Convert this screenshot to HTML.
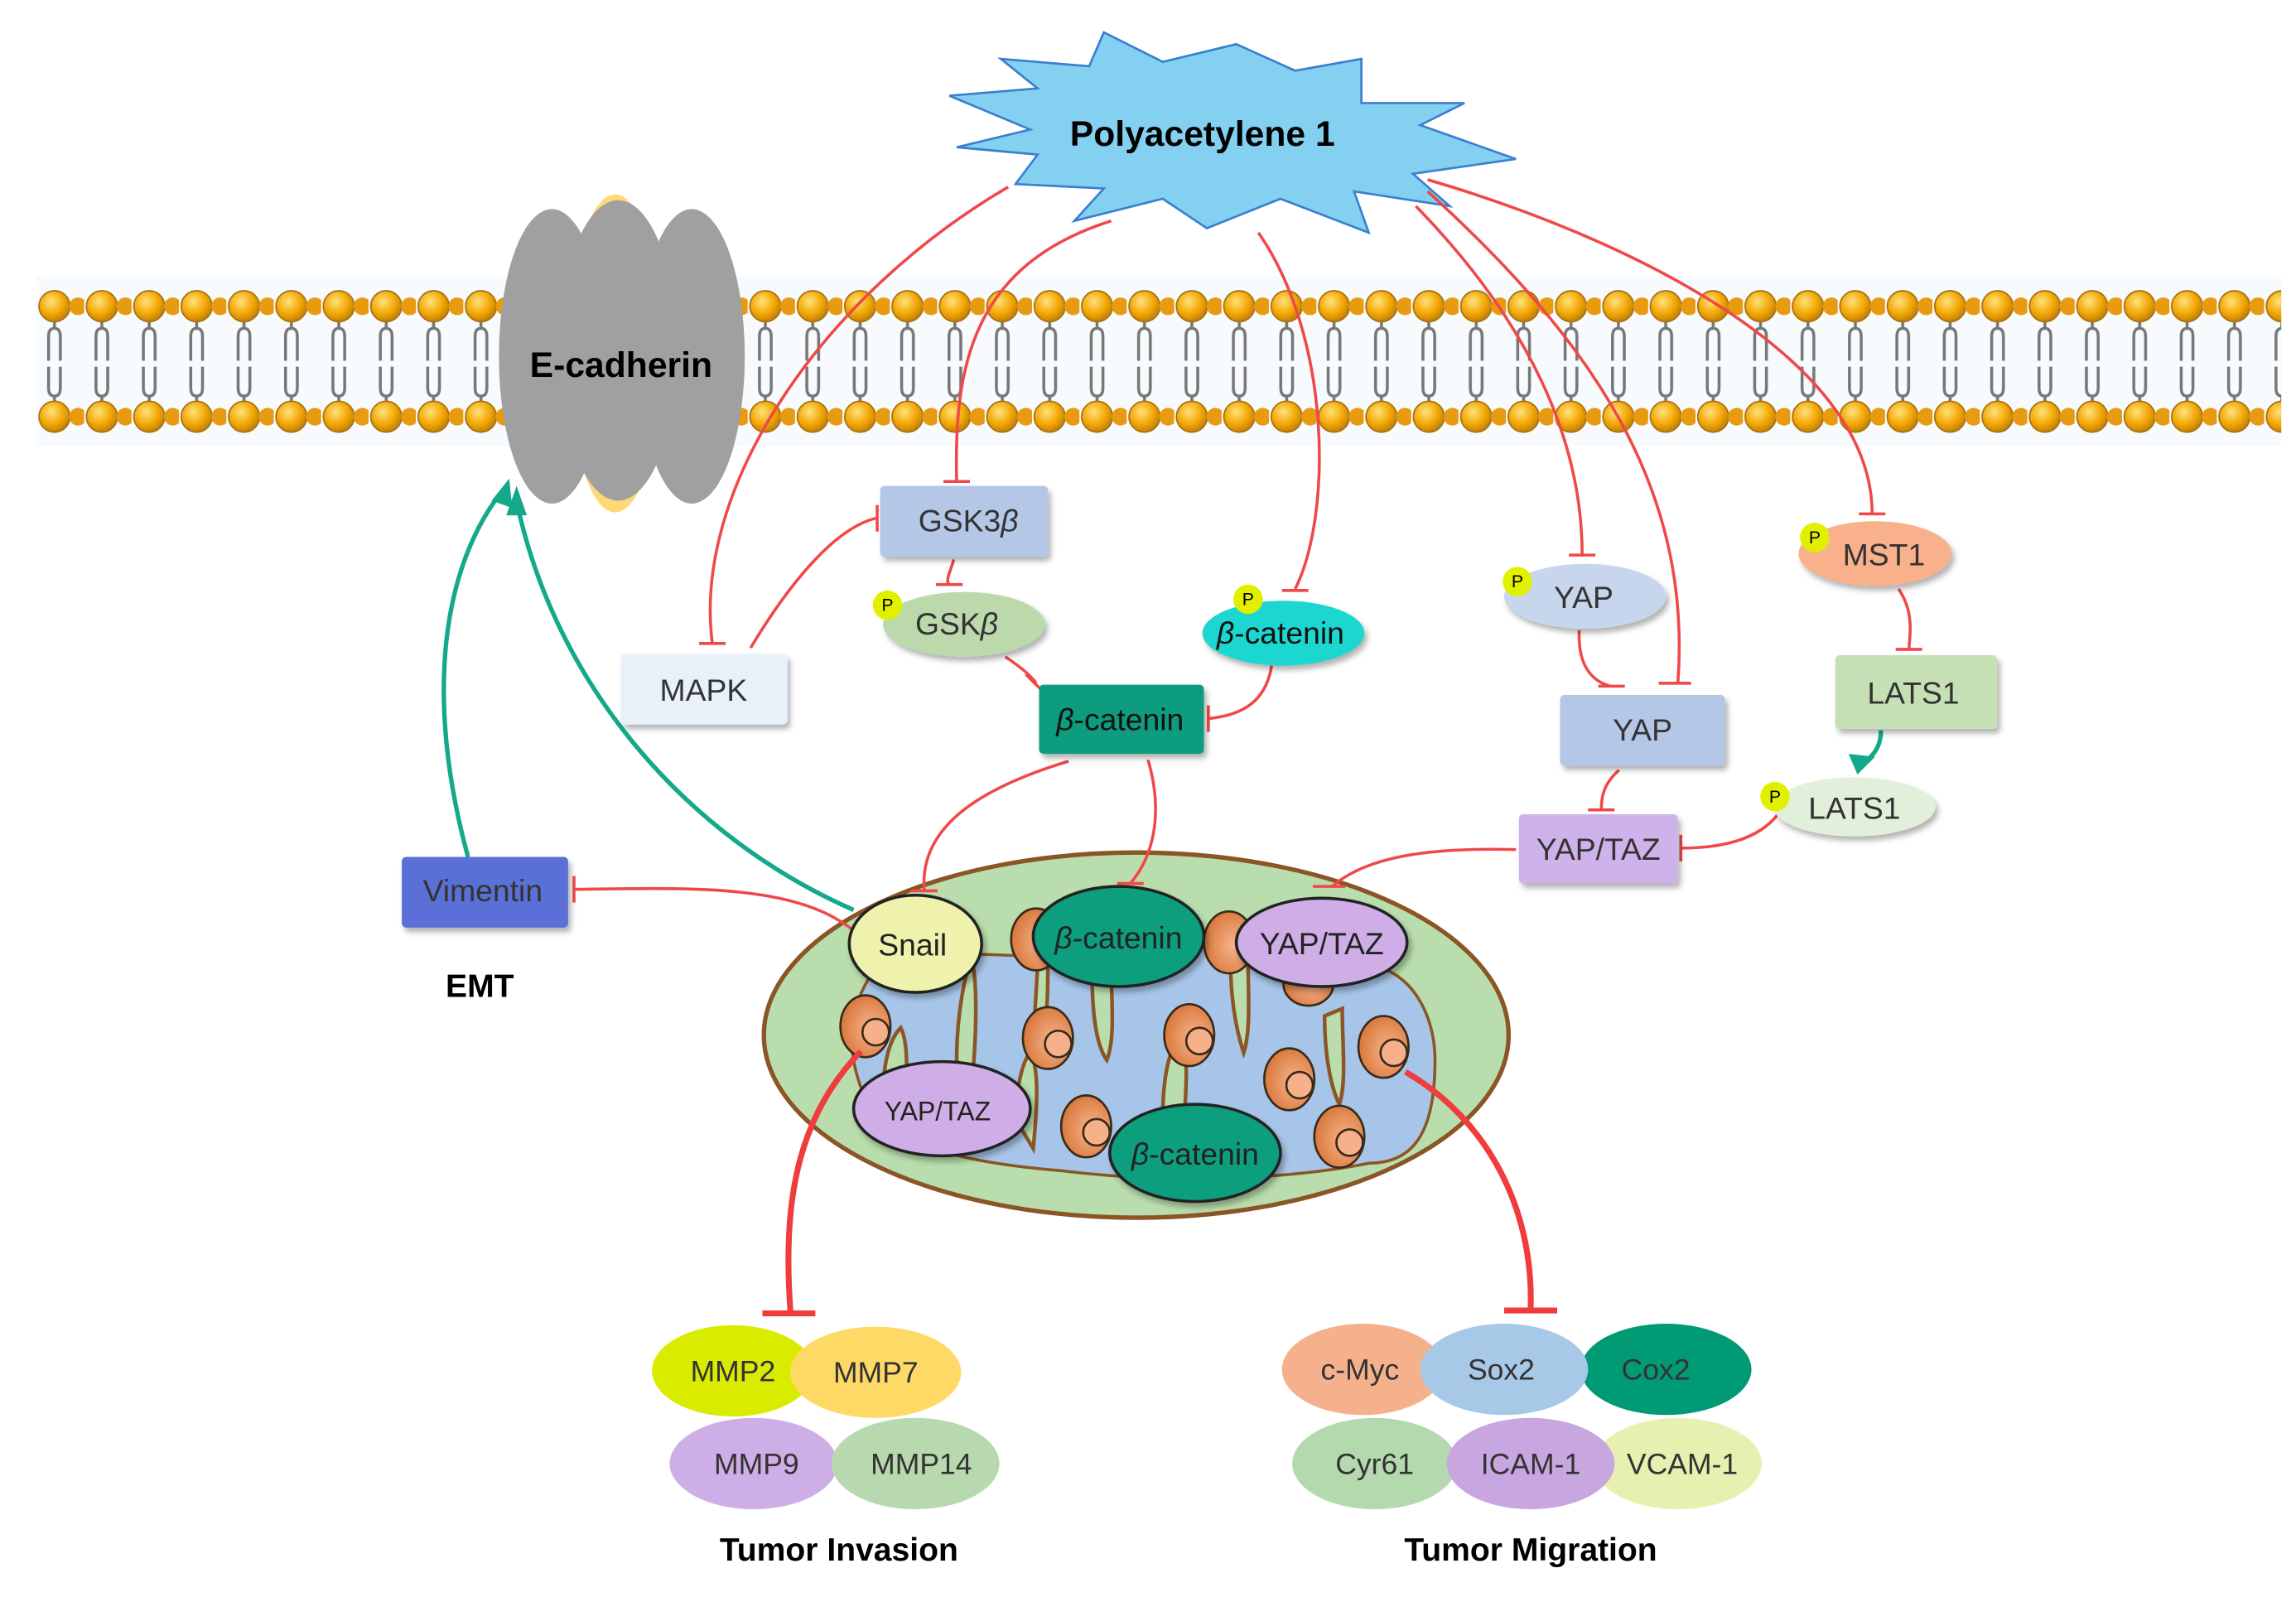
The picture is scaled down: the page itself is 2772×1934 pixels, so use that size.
<!DOCTYPE html>
<html><head><meta charset="utf-8"><style>
html,body{margin:0;padding:0;background:#fff;}
svg{display:block;}
text{font-family:"Liberation Sans",sans-serif;}
</style></head><body>
<svg width="2772" height="1934" viewBox="0 0 1560 1088" preserveAspectRatio="none" xmlns="http://www.w3.org/2000/svg">
<defs>
<radialGradient id="bead" cx="0.4" cy="0.35" r="0.7">
<stop offset="0" stop-color="#ffe27a"/><stop offset="0.6" stop-color="#f2a400"/><stop offset="1" stop-color="#b57a10"/>
</radialGradient>
<radialGradient id="ball" cx="0.6" cy="0.55" r="0.6">
<stop offset="0" stop-color="#f9b48a"/><stop offset="1" stop-color="#d7783c"/>
</radialGradient>
<pattern id="mem" x="25" y="0" width="32.2" height="1088" patternUnits="userSpaceOnUse">
<g stroke="#777" stroke-width="2" fill="none">
<path d="M12,215 v8 M12,223 c-4,0 -4,4 -4,6 v16 M12,223 c4,0 4,4 4,6 v16"/>
<path d="M12,277 v-8 M12,269 c-4,0 -4,-4 -4,-6 v-14 M12,269 c4,0 4,-4 4,-6 v-14"/>
</g>
<circle cx="12" cy="208" r="10.5" fill="url(#bead)" stroke="#a87010" stroke-width="1"/>
<circle cx="12" cy="283" r="10.5" fill="url(#bead)" stroke="#a87010" stroke-width="1"/>
<circle cx="28" cy="208" r="6" fill="#e89a10"/>
<circle cx="28" cy="283" r="6" fill="#e89a10"/>
</pattern>
<filter id="sh" x="-20%" y="-20%" width="140%" height="150%"><feDropShadow dx="2" dy="3" stdDeviation="2" flood-color="#000" flood-opacity="0.3"/></filter>
</defs>

<!-- membrane -->
<rect x="25" y="188" width="1525" height="115" fill="#f7fbfd"/>
<rect x="25" y="190" width="1525" height="110" fill="url(#mem)"/>

<!-- E-cadherin -->
<ellipse cx="418" cy="240" rx="32" ry="108" fill="#ffd878"/>
<ellipse cx="375" cy="242" rx="36" ry="100" fill="#a0a0a0"/>
<ellipse cx="470" cy="242" rx="36" ry="100" fill="#a0a0a0"/>
<ellipse cx="420" cy="238" rx="40" ry="102" fill="#a0a0a0"/>
<text x="422" y="256" font-size="24" font-weight="bold" text-anchor="middle" fill="#000">E-cadherin</text>

<!-- Starburst -->
<polygon points="645,65 705,60 680,40 740,45 750,22 790,42 840,30 880,48 925,40 925,70 995,70 965,85 1030,108 960,118 985,140 920,130 930,158 870,135 820,155 790,135 730,150 750,128 690,125 705,105 650,100 700,88" fill="#84d0f0" stroke="#3a7fd0" stroke-width="1.5"/>
<text x="817" y="99" font-size="24" font-weight="bold" text-anchor="middle" fill="#000">Polyacetylene 1</text>

<!-- mitochondrion body -->
<ellipse cx="772" cy="703" rx="253" ry="124" fill="#b9ddac" stroke="#8b5525" stroke-width="3"/>
<path d="M590,665 C620,640 680,650 720,650 C780,640 850,640 930,655 C960,660 975,690 975,720 C975,770 960,790 930,790 C880,800 800,805 720,795 C660,790 610,780 590,750 C575,720 575,690 590,665 Z" fill="#a6c5e8" stroke="#8b5525" stroke-width="2"/>
<g fill="#b9ddac" stroke="#8b5525" stroke-width="2.5">
<path d="M650,720 C650,690 655,665 660,650 C664,665 664,700 660,740 Z"/>
<path d="M705,650 C705,675 700,700 706,715 C712,700 712,670 712,650 Z"/>
<path d="M742,660 C742,690 745,710 752,720 C758,705 755,680 755,655 Z"/>
<path d="M790,760 C790,730 795,710 802,705 C808,715 806,740 804,770 Z"/>
<path d="M836,650 C836,680 840,700 845,715 C850,700 848,675 848,650 Z"/>
<path d="M690,760 C690,740 695,720 700,715 C706,725 705,750 702,780 Z"/>
<path d="M900,690 C900,720 905,740 910,750 C915,735 912,710 912,685 Z"/>
<path d="M600,745 C600,720 605,705 612,698 C618,710 616,735 614,760 Z"/>
</g>
<g stroke="#3a2a1a" stroke-width="1.5">
<ellipse cx="588" cy="697" rx="17" ry="21" fill="url(#ball)"/><circle cx="595" cy="701" r="9" fill="#f7b18a"/>
<ellipse cx="712" cy="705" rx="17" ry="21" fill="url(#ball)"/><circle cx="719" cy="709" r="9" fill="#f7b18a"/>
<ellipse cx="808" cy="703" rx="17" ry="21" fill="url(#ball)"/><circle cx="815" cy="707" r="9" fill="#f7b18a"/>
<ellipse cx="876" cy="733" rx="17" ry="21" fill="url(#ball)"/><circle cx="883" cy="737" r="9" fill="#f7b18a"/>
<ellipse cx="940" cy="711" rx="17" ry="21" fill="url(#ball)"/><circle cx="947" cy="715" r="9" fill="#f7b18a"/>
<ellipse cx="738" cy="765" rx="17" ry="21" fill="url(#ball)"/><circle cx="745" cy="769" r="9" fill="#f7b18a"/>
<ellipse cx="910" cy="772" rx="17" ry="21" fill="url(#ball)"/><circle cx="917" cy="776" r="9" fill="#f7b18a"/>
<ellipse cx="835" cy="640" rx="17" ry="21" fill="url(#ball)"/>
<ellipse cx="704" cy="638" rx="17" ry="21" fill="url(#ball)"/>
<ellipse cx="889" cy="668" rx="17" ry="15" fill="url(#ball)"/>
</g>

<!-- red inhibitory connectors -->
<g fill="none" stroke="#f04848" stroke-width="2">
<path d="M685,127 C560,200 470,330 484,437"/><path d="M475,437 h18"/>
<path d="M755,150 C660,180 648,250 650,327"/><path d="M641,327 h18"/>
<path d="M855,158 C905,230 905,350 880,400"/><path d="M871,401 h18"/>
<path d="M962,140 C1040,220 1075,300 1075,377"/><path d="M1066,377 h18"/>
<path d="M970,130 C1080,230 1150,330 1140,464"/><path d="M1127,464 h22"/>
<path d="M970,122 C1100,160 1272,240 1272,349"/><path d="M1263,349 h18"/>
<path d="M510,440 C540,390 570,358 595,352"/><path d="M596,343 v18"/>
<path d="M648,380 C646,388 642,394 645,397"/><path d="M636,397 h18"/>
<path d="M683,446 C692,452 700,458 704,464"/><path d="M697,458 l12,12"/>
<path d="M864,452 C860,478 842,486 821,488"/><path d="M821,479 v18"/>
<path d="M1073,428 C1072,450 1080,462 1094,466"/><path d="M1086,466 h18"/>
<path d="M1100,523 C1090,532 1088,540 1088,550"/><path d="M1079,550 h18"/>
<path d="M1208,553 C1195,570 1170,576 1142,576"/><path d="M1142,567 v18"/>
<path d="M1290,400 C1300,415 1298,428 1297,441"/><path d="M1288,441 h18"/>
<path d="M726,517 C650,540 625,570 628,605"/><path d="M619,605 h18"/>
<path d="M780,516 C790,550 785,580 768,600"/><path d="M759,600 h18"/>
<path d="M1030,577 C960,575 925,585 905,602"/><path d="M892,602 h22"/>
<path d="M580,632 C540,600 470,603 390,604"/><path d="M390,595 v18"/>
</g>
<g fill="none" stroke="#f03c3c" stroke-width="4">
<path d="M585,714 C540,760 532,820 537,890"/><path d="M518,892 h36"/>
<path d="M955,728 C1010,760 1042,820 1040,888"/><path d="M1022,890 h36"/>
</g>

<!-- teal arrows -->
<g fill="none" stroke="#14a98a" stroke-width="3">
<path d="M318,582 C290,480 298,390 340,335"/>
<path d="M580,618 C470,570 380,470 352,345"/>
<path d="M1278,496 C1278,508 1272,514 1266,518"/>
</g>
<polygon points="346,325 348,345 334,340" fill="#14a98a"/>
<polygon points="351,330 358,350 344,350" fill="#14a98a"/>
<polygon points="1262,526 1256,512 1274,514" fill="#14a98a"/>

<!-- boxes -->
<g filter="url(#sh)">
<rect x="598" y="330" width="114" height="48" rx="3" fill="#b4c7e7"/>
<rect x="422" y="444" width="113" height="48" rx="3" fill="#e8f0fa"/>
<rect x="706" y="465" width="112" height="47" rx="3" fill="#0f9c7e"/>
<rect x="1060" y="472" width="112" height="48" rx="3" fill="#b4c7e7"/>
<rect x="1247" y="445" width="110" height="50" rx="3" fill="#c5e0b4"/>
<rect x="1032" y="553" width="108" height="47" rx="3" fill="#d0b2ea"/>
<rect x="273" y="582" width="113" height="48" rx="3" fill="#5a70d6"/>
<ellipse cx="655" cy="424" rx="55" ry="22" fill="#bcd9ac"/>
<ellipse cx="872" cy="430" rx="55" ry="22" fill="#1ad6d0"/>
<ellipse cx="1077" cy="405" rx="55" ry="22" fill="#c7d6ec"/>
<ellipse cx="1274" cy="376" rx="52" ry="22" fill="#f8b18a"/>
<ellipse cx="1260" cy="548" rx="55" ry="20" fill="#e2efda"/>
</g>
<g fill="#e2f000"><circle cx="603" cy="411" r="10"/><circle cx="848" cy="407" r="10"/><circle cx="1031" cy="395" r="10"/><circle cx="1233" cy="365" r="10"/><circle cx="1206" cy="541" r="10"/></g>
<g font-size="12" text-anchor="middle" fill="#000"><text x="603" y="415">P</text><text x="848" y="411">P</text><text x="1031" y="399">P</text><text x="1233" y="369">P</text><text x="1206" y="545">P</text></g>

<g font-size="21" text-anchor="middle" fill="#333">
<text x="658" y="361">GSK3<tspan font-style="italic">β</tspan></text>
<text x="650" y="431">GSK<tspan font-style="italic">β</tspan></text>
<text x="478" y="476">MAPK</text>
<text x="761" y="496" fill="#111"><tspan font-style="italic">β</tspan>-catenin</text>
<text x="870" y="437" fill="#111"><tspan font-style="italic">β</tspan>-catenin</text>
<text x="1076" y="413">YAP</text>
<text x="1116" y="503">YAP</text>
<text x="1280" y="384">MST1</text>
<text x="1300" y="478">LATS1</text>
<text x="1260" y="556">LATS1</text>
<text x="1086" y="584">YAP/TAZ</text>
<text x="328" y="612">Vimentin</text>
</g>
<text x="326" y="677" font-size="22" font-weight="bold" text-anchor="middle">EMT</text>

<!-- mitochondrion proteins -->
<g stroke="#222" stroke-width="2" filter="url(#sh)">
<ellipse cx="622" cy="641" rx="45" ry="33" fill="#eef2ac"/>
<ellipse cx="760" cy="636" rx="58" ry="34" fill="#0e9e7e"/>
<ellipse cx="898" cy="640" rx="58" ry="30" fill="#cfaee8"/>
<ellipse cx="640" cy="753" rx="60" ry="32" fill="#cfaee8"/>
<ellipse cx="812" cy="783" rx="58" ry="33" fill="#0e9e7e"/>
</g>
<g font-size="21" text-anchor="middle" fill="#222">
<text x="620" y="649">Snail</text>
<text x="760" y="644"><tspan font-style="italic">β</tspan>-catenin</text>
<text x="898" y="648">YAP/TAZ</text>
<text x="637" y="761" font-size="18">YAP/TAZ</text>
<text x="812" y="791"><tspan font-style="italic">β</tspan>-catenin</text>
</g>

<!-- bottom groups -->
<g>
<ellipse cx="512" cy="994" rx="57" ry="31" fill="#cdaee6"/>
<ellipse cx="622" cy="994" rx="57" ry="31" fill="#b8d9b0"/>
<ellipse cx="498" cy="931" rx="55" ry="31" fill="#d9ec00"/>
<ellipse cx="595" cy="932" rx="58" ry="31" fill="#ffd966"/>
<ellipse cx="934" cy="994" rx="56" ry="31" fill="#b5d9ae"/>
<ellipse cx="1140" cy="994" rx="57" ry="31" fill="#e7f0b0"/>
<ellipse cx="1040" cy="994" rx="57" ry="31" fill="#c8a6e0"/>
<ellipse cx="926" cy="930" rx="55" ry="31" fill="#f4b18c"/>
<ellipse cx="1132" cy="930" rx="58" ry="31" fill="#009a74"/>
<ellipse cx="1022" cy="930" rx="57" ry="31" fill="#a8c8e8"/>
</g>
<g font-size="20" text-anchor="middle" fill="#333">
<text x="498" y="938">MMP2</text><text x="595" y="939">MMP7</text>
<text x="514" y="1001">MMP9</text><text x="626" y="1001">MMP14</text>
<text x="924" y="937">c-Myc</text><text x="1020" y="937">Sox2</text><text x="1125" y="937">Cox2</text>
<text x="934" y="1001">Cyr61</text><text x="1040" y="1001">ICAM-1</text><text x="1143" y="1001">VCAM-1</text>
</g>
<g font-size="22" font-weight="bold" text-anchor="middle" fill="#000">
<text x="570" y="1060">Tumor Invasion</text>
<text x="1040" y="1060">Tumor Migration</text>
</g>
</svg>
</body></html>
